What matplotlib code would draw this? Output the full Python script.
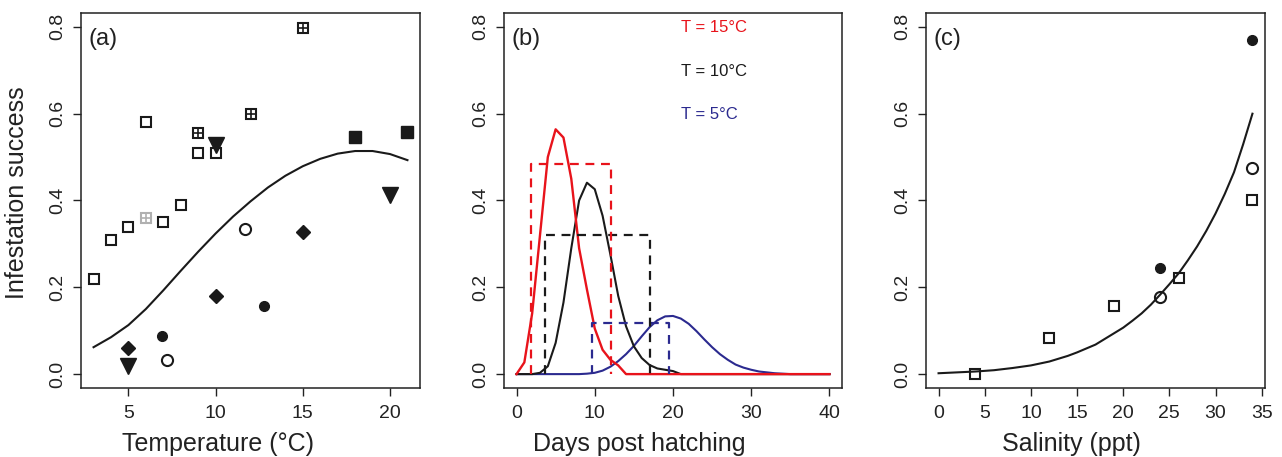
import numpy as np
import matplotlib
matplotlib.use("Agg")
import matplotlib.pyplot as plt

plt.rcParams['font.family'] = ['Liberation Sans', 'DejaVu Sans']

# ---- panel (a): temperature ----
open_sq_x = [3, 4, 5, 6, 7, 8, 9, 10]
open_sq_y = [0.22, 0.31, 0.34, 0.58, 0.35, 0.39, 0.51, 0.51]
grey_cross_x = [6]
grey_cross_y = [0.36]
cross_sq_x = [9, 12, 15]
cross_sq_y = [0.555, 0.60, 0.797]
fill_sq_x = [18, 21]
fill_sq_y = [0.546, 0.558]
tri_x = [5, 10, 20]
tri_y = [0.018, 0.528, 0.413]
diam_x = [5, 10, 15]
diam_y = [0.061, 0.18, 0.327]
fcirc_a_x = [6.9, 12.8]
fcirc_a_y = [0.088, 0.158]
ocirc_a_x = [7.2, 11.7]
ocirc_a_y = [0.032, 0.334]

fit_a_x = [3, 4, 5, 6, 7, 8, 9, 10, 11, 12, 13, 14, 15, 16, 17, 18, 19, 20, 21]
fit_a_y = [0.062, 0.085, 0.113, 0.150, 0.193, 0.238, 0.282, 0.324, 0.363, 0.398,
           0.430, 0.457, 0.479, 0.496, 0.508, 0.514, 0.514, 0.507, 0.493]

# ---- panel (b): days post hatching ----
days = list(range(0, 41))
red15 = [0, 0.027, 0.14, 0.32, 0.50, 0.564, 0.545, 0.45, 0.29, 0.195, 0.105,
         0.056, 0.033, 0.02, 0] + [0] * 26
blk10 = [0, 0, 0, 0.003, 0.018, 0.072, 0.165, 0.29, 0.40, 0.441, 0.426, 0.365,
         0.275, 0.18, 0.11, 0.064, 0.037, 0.021, 0.013, 0.01, 0.007, 0] + [0] * 19
blu5 = [0, 0, 0, 0, 0, 0, 0, 0, 0, 0.001, 0.003, 0.008, 0.017, 0.03, 0.046,
        0.065, 0.087, 0.108, 0.124, 0.133, 0.134, 0.128, 0.116, 0.099, 0.080,
        0.062, 0.046, 0.033, 0.022, 0.015, 0.010, 0.006, 0.004, 0.002, 0.001,
        0, 0, 0, 0, 0, 0]
# dashed boxes: start day, end day, height
box15 = (1.9, 12.1, 0.484)
box10 = (3.7, 17.1, 0.32)
box5 = (9.6, 19.45, 0.117)
temp_labels = ["T = 15°C", "T = 10°C", "T = 5°C"]
temp_label_y = [0.798, 0.698, 0.597]

# ---- panel (c): salinity ----
sq_c_x = [4, 12, 19, 26, 34]
sq_c_y = [0.0, 0.084, 0.158, 0.222, 0.40]
fcirc_c_x = [24, 34]
fcirc_c_y = [0.244, 0.769]
ocirc_c_x = [24, 34]
ocirc_c_y = [0.177, 0.476]
fit_c_x = [0, 2, 4, 6, 8, 10, 12, 14, 15, 17, 19, 20, 21, 22, 23, 24, 25, 26,
           27, 28, 29, 30, 31, 32, 33, 34]
fit_c_y = [0.002, 0.004, 0.006, 0.009, 0.014, 0.02, 0.029, 0.042, 0.050, 0.068,
           0.094, 0.107, 0.123, 0.14, 0.16, 0.183, 0.207, 0.232, 0.262, 0.294,
           0.33, 0.37, 0.415, 0.465, 0.53, 0.60]

RED = '#e8131b'
BLUE = '#2b2a8f'
INK = '#1a1a1a'

fig = plt.figure(figsize=(12.82, 4.57), dpi=100)
axA = fig.add_axes([81/1282, 69/457, 339/1282, 375/457])
axB = fig.add_axes([504/1282, 69/457, 338/1282, 375/457])
axC = fig.add_axes([926/1282, 69/457, 339/1282, 375/457])


def rstyle(ax, xticks):
    for s in ax.spines.values():
        s.set_linewidth(1.1)
        s.set_color('#222222')
    ax.set_ylim(-0.032, 0.832)
    ax.set_yticks([0.0, 0.2, 0.4, 0.6, 0.8])
    ax.set_yticklabels(['0.0', '0.2', '0.4', '0.6', '0.8'])
    ax.set_xticks(xticks)
    ax.tick_params(direction='out', length=5.5, width=1.0, labelsize=14,
                   color='#222222', labelcolor='#222222', pad=5)
    ax.tick_params(axis='x', pad=7)
    for lab in ax.get_yticklabels():
        lab.set_rotation(90)
        lab.set_va('center')


# panel (a)
axA.plot(fit_a_x, fit_a_y, color=INK, lw=1.5)
axA.plot(open_sq_x, open_sq_y, 's', ms=7.5, mfc='none', mec=INK, mew=1.5)
axA.plot(grey_cross_x, grey_cross_y, 's', ms=7.5, mfc='none', mec='#b0b0b0', mew=1.5)
axA.plot(grey_cross_x, grey_cross_y, '+', ms=7.5, mec='#b0b0b0', mew=1.2)
axA.plot(cross_sq_x, cross_sq_y, 's', ms=7.5, mfc='none', mec=INK, mew=1.5)
axA.plot(cross_sq_x, cross_sq_y, '+', ms=7.5, mec=INK, mew=1.2)
axA.plot(fill_sq_x, fill_sq_y, 's', ms=8, color=INK)
axA.plot(tri_x, tri_y, 'v', ms=11, color=INK)
axA.plot(diam_x, diam_y, 'D', ms=7.5, color=INK)
axA.plot(fcirc_a_x, fcirc_a_y, 'o', ms=7, color=INK)
axA.plot(ocirc_a_x, ocirc_a_y, 'o', ms=8, mfc='none', mec=INK, mew=1.5)
axA.set_xlim(2.28, 21.72)
rstyle(axA, [5, 10, 15, 20])
axA.set_xlabel('Temperature (°C)', fontsize=18, color='#222222')
axA.xaxis.set_label_coords(0.404, -0.118)
axA.set_ylabel('Infestation success', fontsize=18, color='#222222')
axA.yaxis.set_label_coords(-0.152, 0.52)
axA.text(0.022, 0.96, '(a)', transform=axA.transAxes, fontsize=17,
         ha='left', va='top', color='#222222')

# panel (b)
axB.plot(days, blu5, color=BLUE, lw=1.5)
axB.plot(days, blk10, color=INK, lw=1.5)
axB.plot(days, red15, color=RED, lw=1.7)
for (x0, x1, h), c in zip([box5, box10, box15], [BLUE, INK, RED]):
    axB.plot([x0, x0, x1, x1], [0, h, h, 0], color=c, lw=1.6, ls=(0, (4, 3)))
for lab, ly, c in zip(temp_labels, temp_label_y, [RED, INK, BLUE]):
    axB.text(21.0, ly, lab, color=c, fontsize=12, ha='left', va='center')
axB.set_xlim(-1.6, 41.6)
rstyle(axB, [0, 10, 20, 30, 40])
axB.set_xlabel('Days post hatching', fontsize=18, color='#222222')
axB.xaxis.set_label_coords(0.40, -0.118)
axB.text(0.022, 0.96, '(b)', transform=axB.transAxes, fontsize=17,
         ha='left', va='top', color='#222222')

# panel (c)
axC.plot(fit_c_x, fit_c_y, color=INK, lw=1.5)
axC.plot(sq_c_x, sq_c_y, 's', ms=7.5, mfc='none', mec=INK, mew=1.5)
axC.plot(fcirc_c_x, fcirc_c_y, 'o', ms=7, color=INK)
axC.plot(ocirc_c_x, ocirc_c_y, 'o', ms=8, mfc='none', mec=INK, mew=1.5)
axC.set_xlim(-1.36, 35.36)
rstyle(axC, [0, 5, 10, 15, 20, 25, 30, 35])
axC.set_xlabel('Salinity (ppt)', fontsize=18, color='#222222')
axC.xaxis.set_label_coords(0.43, -0.118)
axC.text(0.022, 0.96, '(c)', transform=axC.transAxes, fontsize=17,
         ha='left', va='top', color='#222222')

fig.savefig('out.png', dpi=100)
